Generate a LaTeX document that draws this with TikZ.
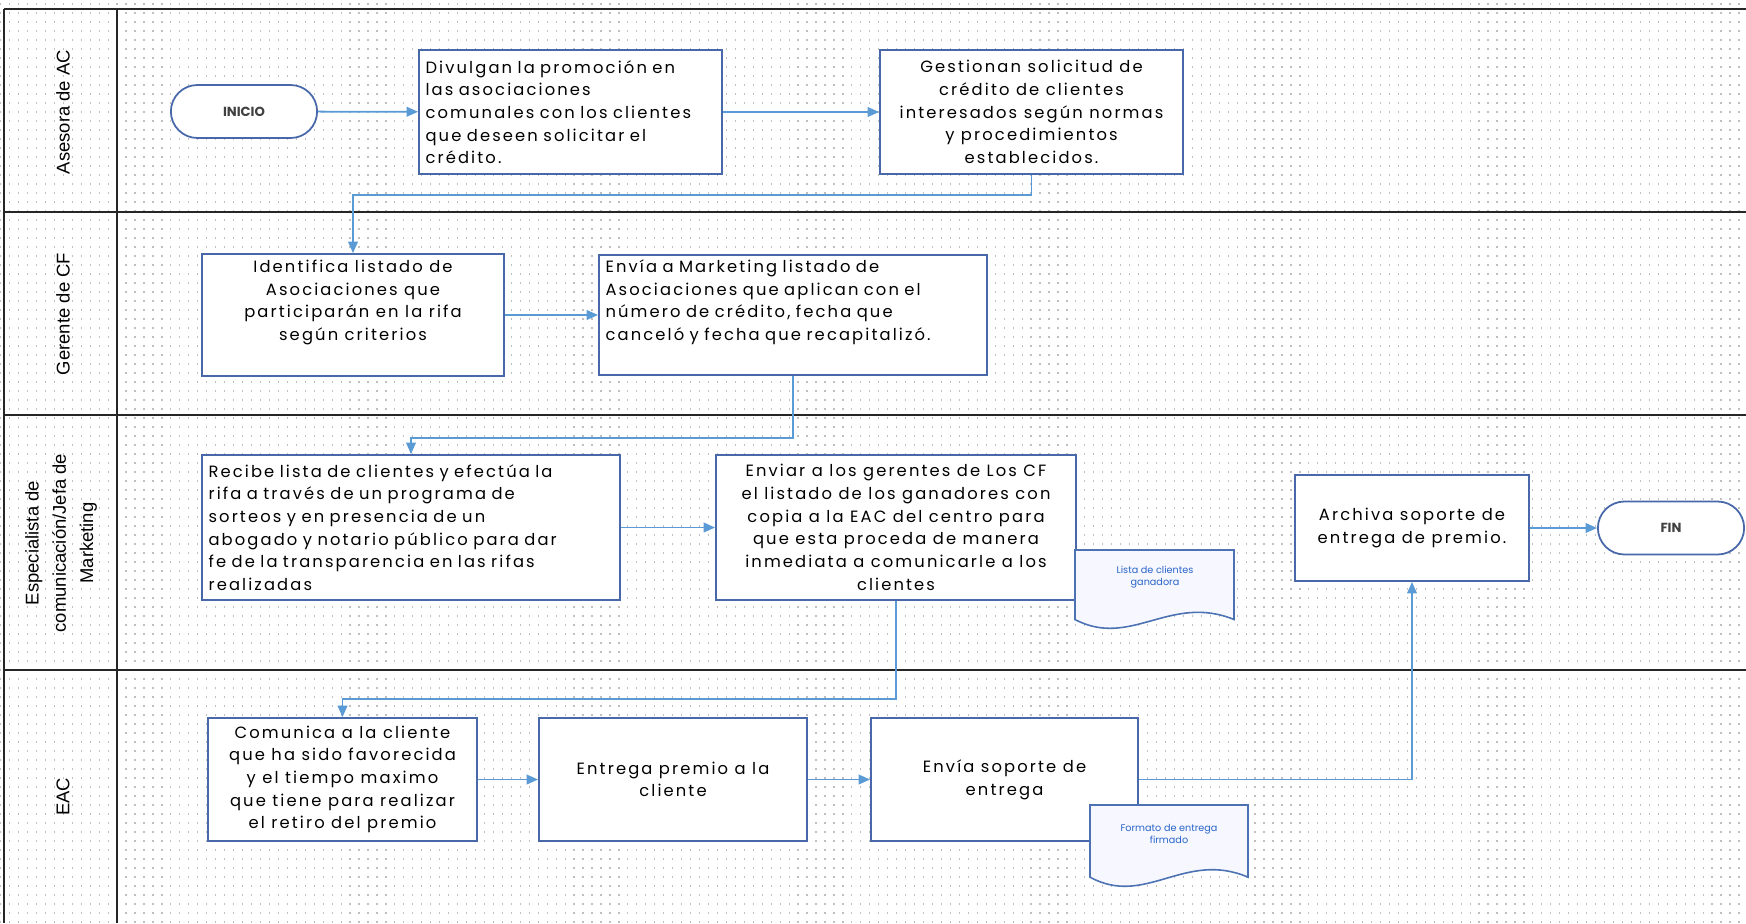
\documentclass[tikz,border=0pt]{standalone}
\usepackage{fontspec}
\setmainfont{Poppins}[LetterSpace=13]
\newfontfamily\lanefont{Liberation Sans}
\newfontfamily\plainfont{Poppins}
\usetikzlibrary{shapes.misc,arrows.meta,calc}

\definecolor{boxblue}{RGB}{72,104,170}
\definecolor{flowblue}{RGB}{91,155,213}
\definecolor{docblue}{RGB}{40,100,200}

\tikzset{
  proc/.style 2 args={draw=boxblue, line width=1.1pt, fill=white, inner sep=3pt,
    minimum width=#1, minimum height=#2,
    font=\fontsize{9.3}{12.9}\selectfont},
  term/.style={rounded rectangle, draw=boxblue, line width=1pt, fill=white,
    minimum width=3.16cm, minimum height=1.06cm,
    font=\plainfont\fontsize{7.5}{9}\selectfont\bfseries, text=black!75},
  flow/.style={draw=flowblue, line width=1pt, -{Triangle[length=6.5pt,width=5.5pt]}},
  lane/.style={line width=1.6pt, black!85},
  griddot/.style={black!25, line width=0.7pt, dash pattern=on 0.7pt off 4.4pt},
  lanelabel/.style={rotate=90, font=\lanefont\fontsize{10.5}{15.5}\selectfont, align=center},
  doctext/.style={font=\plainfont\fontsize{5.5}{7}\selectfont, text=docblue, align=center},
  docline/.style={draw=boxblue!80!flowblue, line width=0.9pt, fill=blue!3}
}

% document symbol: (x,y) top left, width, height
\newcommand{\wavedoc}[4]{
  \filldraw[docline] (#1,#2) -- (#1+#3,#2) -- (#1+#3,#2+0.88*#4)
    .. controls (#1+0.6*#3,#2+0.55*#4) and (#1+0.35*#3,#2+1.25*#4) .. (#1,#2+0.88*#4) -- cycle;
}

\begin{document}
\begin{tikzpicture}[x=0.02cm, y=-0.02cm]
\useasboundingbox (0,0) rectangle (1746,923);
\fill[white] (0,0) rectangle (1746,923);
% dotted grid
\foreach \gy in {4,13,...,922}
  \draw[griddot] (0,\gy) -- (1746,\gy);
% lanes
\foreach \ly in {9,212,415,670}
  \draw[lane] (4,\ly) -- (1746,\ly);
\draw[lane] (4,9) -- (4,923);
\draw[lane] (117,9) -- (117,923);
\node[lanelabel] (l1) at (63,112) {Asesora de AC};
\node[lanelabel] (l2) at (63,314) {Gerente de CF};
\node[lanelabel] (l3) at (61,543) {Especialista de\\comunicación/Jefa de\\Marketing};
\node[lanelabel] (l4) at (63,797) {EAC};

% Asesora de AC
\node[term] (ini) at (244,111.5) {INICIO};
\node[proc={6.06cm}{2.48cm}, text width=5.8cm, align=left] (div) at (570.5,112)
  {Divulgan la promoción en\\las asociaciones\\comunales con los clientes\\que deseen solicitar el\\crédito.};
\node[proc={6.06cm}{2.48cm}, align=center] (gest) at (1031.5,112)
  {Gestionan solicitud de\\crédito de clientes\\interesados según normas\\y procedimientos\\establecidos.};

% Gerente de CF
\node[proc={6.04cm}{2.44cm}, align=center] (ident) at (353,315)
  {Identifica listado de\\Asociaciones que\\participarán en la rifa\\según criterios\\ \strut};
\node[proc={7.76cm}{2.36cm}, text width=7.5cm, align=left] (mkt) at (793,315)
  {Envía a Marketing listado de\\Asociaciones que aplican con el\\número de crédito, fecha que\\canceló y fecha que recapitalizó.\\ \strut};

% Especialista / Jefa de Marketing
\node[proc={8.36cm}{2.9cm}, text width=8.1cm, align=left] (rec) at (411,527.5)
  {Recibe lista de clientes y efectúa la\\rifa a través de un programa de\\sorteos y en presencia de un\\abogado y notario público para dar\\fe de la transparencia en las rifas\\realizadas};
\node[proc={7.2cm}{2.9cm}, align=center] (env) at (896,527.5)
  {Enviar a los gerentes de Los CF\\el listado de los ganadores con\\copia a la EAC del centro para\\que esta proceda de manera\\inmediata a comunicarle a los\\clientes};
\node[proc={4.68cm}{2.12cm}, align=center] (arch) at (1412,528)
  {Archiva soporte de\\entrega de premio.};
\node[term] (fin) at (1671,528) {FIN};
\wavedoc{1075}{550}{159}{79}
\node[doctext] (lista) at (1155,577) {Lista de clientes\\ganadora};

% EAC
\node[proc={5.38cm}{2.46cm}, align=center] (com) at (342.5,779.5)
  {Comunica a la cliente\\que ha sido favorecida\\y el tiempo maximo\\que tiene para realizar\\el retiro del premio};
\node[proc={5.36cm}{2.46cm}, align=center] (ent) at (673,779.5)
  {Entrega premio a la\\cliente};
\node[proc={5.34cm}{2.46cm}, align=center] (sop) at (1004.5,779.5)
  {Envía soporte de\\entrega};
\wavedoc{1090}{805}{158}{82}
\node[doctext] (formato) at (1169,834) {Formato de entrega\\firmado};

% connectors
\draw[flow] (ini) -- (div);
\draw[flow] (div) -- (gest);
\draw[flow] (gest.south) -- ++(0,20) -| (ident.north);
\draw[flow] (ident) -- (mkt);
\draw[flow] (mkt.south) -- ++(0,62) -| (rec.north);
\draw[flow] (rec) -- (env);
\draw[flow] (env.south) -- ++(0,98) -| (com.north);
\draw[flow] (com) -- (ent);
\draw[flow] (ent) -- (sop);
\draw[flow] (sop.east) -| (arch.south);
\draw[flow] (arch) -- (fin);
\end{tikzpicture}
\end{document}
